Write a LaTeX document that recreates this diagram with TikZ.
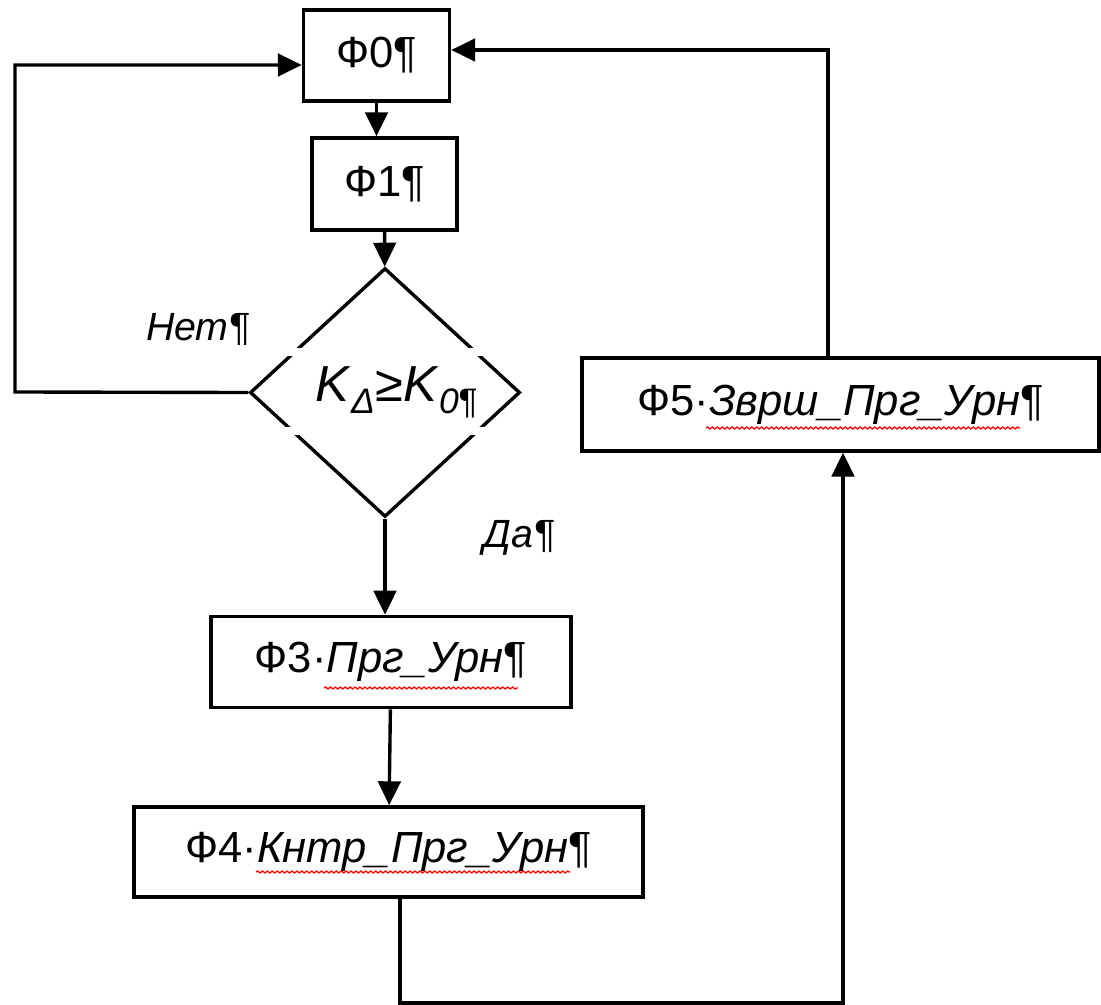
\documentclass[tikz,border=0pt]{standalone}
\usepackage{fontspec}
\setmainfont{Liberation Sans}
\usepackage{tikz}
\usetikzlibrary{shapes.geometric, arrows.meta, positioning, decorations.pathmorphing}
\tikzstyle{block} = [rectangle, draw, line width=2.5pt, minimum height=2.28cm, inner sep=0pt, text centered, font=\fontsize{31}{35}\selectfont]
\tikzstyle{decision} = [diamond, draw, line width=2.4pt, minimum width=6.75cm, minimum height=6.22cm, inner sep=0pt, font=\fontsize{36}{40}\selectfont]
\tikzstyle{answer} = [font=\fontsize{28}{32}\selectfont\itshape]
\tikzstyle{flow} = [line width=2.4pt, -{Triangle[length=17pt, width=16pt]}]
\tikzstyle{spell} = [red, line width=0.9pt, decorate, decoration={snake, amplitude=0.7pt, segment length=3.5pt}]
\tikzstyle{gap} = [white, line width=6pt]

\begin{document}
\begin{tikzpicture}[x=0.025cm, y=-0.025cm]
  \useasboundingbox (0,0) rectangle (1101,1005);
  \node (f0) [block, minimum width=3.65cm] at (376.5,55.5) {Ф0¶};
  \node (f1) [block, minimum width=3.62cm, minimum height=2.3cm] at (384.5,184) {Ф1¶};
  \node (cond) [decision] at (385,392.5) {\hspace*{0.6cm}\textit{K}\textsubscript{\textit{Δ}}≥\textit{K}\textsubscript{\textit{0}¶}};
  \draw [gap] (283,352) -- (492,352);
  \draw [gap] (283,431) -- (492,431);
  \node (no) [answer] at (198,329) {Нет¶};
  \node (yes) [answer] at (519,538) {Да¶};
  \node (f3) [block, minimum width=9cm] at (391,662) {Ф3·\textit{Прг\_Урн}¶};
  \node (f4) [block, minimum width=12.72cm, minimum height=2.25cm] at (388.5,852) {Ф4·\textit{Кнтр\_Прг\_Урн}¶};
  \node (f5) [block, minimum width=12.92cm, minimum height=2.32cm] at (840.5,404.5) {Ф5·\textit{Зврш\_Прг\_Урн}¶};
  \draw [spell] (324,688) -- (518,688);
  \draw [spell] (256,872) -- (570,872);
  \draw [spell] (706,428) -- (1020,428);
  % main line
  \draw [flow] (f0) -- (f0 |- f1.north);
  \draw [flow] (f1) -- (cond);
  \draw [flow] (cond) -- (cond |- f3.north);
  \draw [flow] (f3) -- (f4);
  % loops
  \coordinate (nl) at (15,392);
  \coordinate (nt) at (15,65);
  \draw [flow] (cond.west) -- (nl) -- (nt) -- (nt -| f0.west);
  \coordinate (yt) at (828,50);
  \draw [flow] (yt |- f5.north) -- (yt) -- (yt -| f0.east);
  \coordinate (bl) at (400,1003);
  \coordinate (br) at (843,1003);
  \draw [flow] (bl |- f4.south) -- (bl) -- (br) -- (br |- f5.south);
\end{tikzpicture}
\end{document}
